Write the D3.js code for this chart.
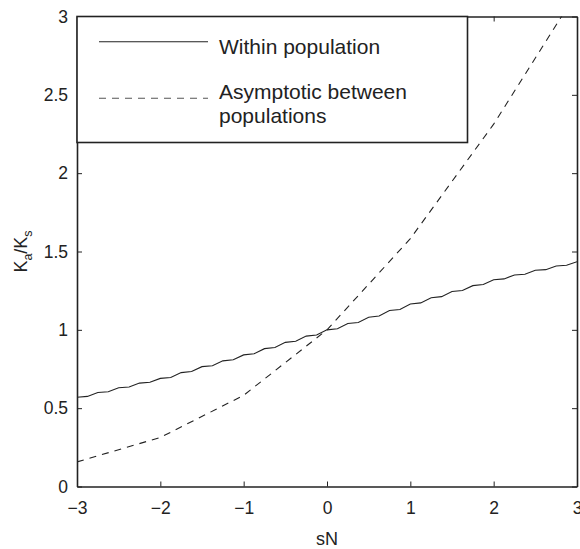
<!DOCTYPE html>
<html>
<head>
<meta charset="utf-8">
<script src="https://cdn.jsdelivr.net/npm/d3@7"></script>
<style>
  body { margin: 0; background: #fff; }
  svg { display: block; font-family: "Liberation Sans", Arial, Helvetica, sans-serif; }
  .axis path, .axis line { stroke: #222; }
  .axis text { fill: #222; font-size: 17.5px; }
</style>
</head>
<body>
<div id="chart"></div>
<script>
// sN grid for the simulated curve (step 0.125)
const withinSN = d3.range(-3, 3.0001, 0.125);
// Ka/Ks within population (slightly stepped)
const withinKaKs = [
  0.570, 0.575, 0.600, 0.605, 0.630, 0.635, 0.660, 0.665, 0.690,
  0.696, 0.727, 0.734, 0.765, 0.771, 0.802, 0.809, 0.840,
  0.847, 0.880, 0.887, 0.920, 0.927, 0.960, 0.967, 1.000,
  1.007, 1.040, 1.047, 1.080, 1.088, 1.123, 1.130, 1.165,
  1.172, 1.205, 1.212, 1.245, 1.251, 1.282, 1.289, 1.320,
  1.325, 1.350, 1.355, 1.380, 1.384, 1.407, 1.412, 1.435
];
// asymptotic between populations, at integer sN
const betweenSN = [-3, -2, -1, 0, 1, 2, 3];
const betweenKaKs = [0.157, 0.313, 0.582, 1.0, 1.582, 2.313, 3.157];

const xTicks = [-3, -2, -1, 0, 1, 2, 3];
const yTicks = [0, 0.5, 1, 1.5, 2, 2.5, 3];
const legendLabels = ['Within population', ['Asymptotic between', 'populations']];

const width = 580;
const height = 549;
const margin = { top: 16.5, right: 3, bottom: 62.5, left: 77 };

const svg = d3.select('#chart').append('svg')
  .attr('width', width)
  .attr('height', height);

const x = d3.scaleLinear().domain([-3, 3]).range([margin.left, width - margin.right]);
const y = d3.scaleLinear().domain([0, 3]).range([height - margin.bottom, margin.top]);

// clip so the dashed line stops at the top of the box
svg.append('clipPath').attr('id', 'plot-clip')
  .append('rect')
  .attr('x', margin.left)
  .attr('y', margin.top)
  .attr('width', x(3) - x(-3))
  .attr('height', y(0) - y(3));

const plot = svg.append('g').attr('clip-path', 'url(#plot-clip)');

const line = d3.line().x(d => x(d[0])).y(d => y(d[1]));

plot.append('path')
  .datum(withinSN.map((s, i) => [s, withinKaKs[i]]))
  .attr('fill', 'none')
  .attr('stroke', '#222')
  .attr('stroke-width', 1.1)
  .attr('d', line);

plot.append('path')
  .datum(betweenSN.map((s, i) => [s, betweenKaKs[i]]))
  .attr('fill', 'none')
  .attr('stroke', '#222')
  .attr('stroke-width', 1.1)
  .attr('stroke-dasharray', '7,6')
  .attr('d', line);

// axes, ticks pointing inwards on all four sides
const tick = 5;
svg.append('g').attr('class', 'axis')
  .attr('transform', `translate(0,${y(0)})`)
  .call(d3.axisBottom(x).tickValues(xTicks).tickSizeInner(-tick).tickSizeOuter(0).tickPadding(15)
    .tickFormat(d => d < 0 ? '\u2212' + Math.abs(d) : d));

svg.append('g').attr('class', 'axis')
  .attr('transform', `translate(0,${y(3)})`)
  .call(d3.axisTop(x).tickValues(xTicks).tickSizeInner(-tick).tickSizeOuter(0).tickFormat(''));

svg.append('g').attr('class', 'axis')
  .attr('transform', `translate(${x(-3)},0)`)
  .call(d3.axisLeft(y).tickValues(yTicks).tickSizeInner(-tick).tickSizeOuter(0).tickPadding(9)
    .tickFormat(d3.format('~g')));

svg.append('g').attr('class', 'axis')
  .attr('transform', `translate(${x(3)},0)`)
  .call(d3.axisRight(y).tickValues(yTicks).tickSizeInner(-tick).tickSizeOuter(0).tickFormat(''));

svg.selectAll('.axis path.domain').attr('stroke-width', 1.6);

// axis titles
svg.append('text')
  .attr('x', x(0))
  .attr('y', 545)
  .attr('text-anchor', 'middle')
  .attr('fill', '#222')
  .style('font-size', '18px')
  .text('sN');

const yLabel = svg.append('text')
  .attr('transform', `translate(27,${(y(0) + y(3)) / 2}) rotate(-90)`)
  .attr('text-anchor', 'middle')
  .attr('fill', '#222')
  .style('font-size', '18px');
yLabel.append('tspan').text('K');
yLabel.append('tspan').attr('dy', 5).style('font-size', '12.5px').text('a');
yLabel.append('tspan').attr('dy', -5).text('/K');
yLabel.append('tspan').attr('dy', 5).style('font-size', '12.5px').text('s');

// legend
const legend = svg.append('g');
legend.append('rect')
  .attr('x', margin.left)
  .attr('y', margin.top)
  .attr('width', 390.5)
  .attr('height', 126)
  .attr('fill', '#fff')
  .attr('stroke', '#222')
  .attr('stroke-width', 1.6);

legend.append('line')
  .attr('x1', 99).attr('x2', 208)
  .attr('y1', 41.7).attr('y2', 41.7)
  .attr('stroke', '#222')
  .attr('stroke-width', 1.1);

legend.append('line')
  .attr('x1', 99).attr('x2', 208)
  .attr('y1', 98.3).attr('y2', 98.3)
  .attr('stroke', '#555')
  .attr('stroke-width', 1.1)
  .attr('stroke-dasharray', '7,6');

legend.append('text')
  .attr('x', 219).attr('y', 53.5)
  .attr('fill', '#222')
  .style('font-size', '21px')
  .text(legendLabels[0]);

const l2 = legend.append('text')
  .attr('x', 219).attr('y', 99)
  .attr('fill', '#222')
  .style('font-size', '21px');
l2.append('tspan').attr('x', 219).text(legendLabels[1][0]);
l2.append('tspan').attr('x', 219).attr('dy', 24).text(legendLabels[1][1]);
</script>
</body>
</html>
